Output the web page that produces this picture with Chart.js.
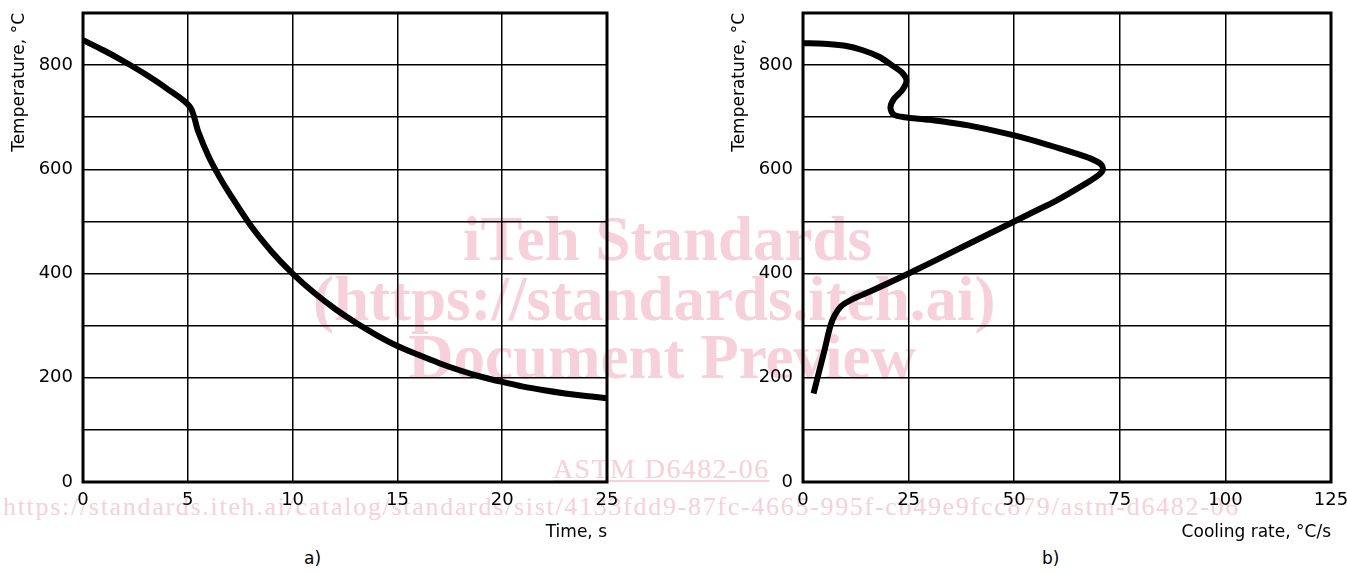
<!DOCTYPE html>
<html>
<head>
<meta charset="utf-8">
<script src="https://cdn.jsdelivr.net/npm/chart.js@4.4.0/dist/chart.umd.min.js"></script>
<style>
    body { margin: 0; background: #fff; width: 1347px; height: 574px; overflow: hidden; position: relative; font-family: "DejaVu Sans", sans-serif; }
    .wm { position: absolute; color: #f6d0da; font-family: "Liberation Serif", serif; white-space: nowrap; line-height: 1; }
    .wm.big { font-weight: bold; font-size: 63px; }
    .box { position: absolute; top: 0; height: 545px; }
    .cap { position: absolute; top: 548px; font-size: 17px; color: #000; }
</style>
</head>
<body>
<div class="wm big" style="left:463px; top:208px;">iTeh Standards</div>
<div class="wm big" style="left:313px; top:268px;">(https://standards.iteh.ai)</div>
<div class="wm big" style="left:408px; top:326px;">Document Preview</div>
<div class="wm" style="left:553px; top:455px; font-size:28px; letter-spacing:1.4px; text-decoration:underline;">ASTM D6482-06</div>
<div class="wm" style="left:3px; top:494px; font-size:26px; letter-spacing:1.7px;">https://standards.iteh.ai/catalog/standards/sist/4133fdd9-87fc-4665-995f-cb49e9fcc879/astm-d6482-06</div>

<div class="box" style="left:0; width:680px;"><canvas id="chartA"></canvas></div>
<div class="box" style="left:720px; width:627px;"><canvas id="chartB"></canvas></div>
<div class="cap" style="left:304px;">a)</div>
<div class="cap" style="left:1042px;">b)</div>

<script>
// a) cooling curve: time vs temperature
const timeS = [0, 1, 2, 3, 4, 5.1, 5.5, 6, 6.5, 7, 8, 9, 10, 11, 12, 13, 14, 15, 16, 17, 18, 19, 20, 21, 22, 23, 24, 25];
const tempA = [848, 828, 806, 782, 755, 720, 672, 624, 586, 553, 492, 442, 400, 364, 333, 306, 282, 261, 244, 228, 214, 202, 192, 183, 176, 170, 165, 161];

// b) cooling rate vs temperature
const coolRate = [0, 5, 10, 14, 18, 21, 23.5, 24.5, 23.5, 21.5, 20.7, 21.5, 24, 30, 40, 50, 58, 64, 68, 70.5, 71, 70, 67, 60, 55, 50, 37.5, 25, 16, 11.5, 9, 7.5, 6.5, 5, 2.5];
const tempB = [842, 841, 837, 829, 816, 800, 785, 770, 752, 735, 718, 705, 700, 695, 683, 665, 647, 632, 621, 610, 600, 589, 573, 540, 520, 500, 450, 400, 366, 350, 337, 320, 300, 250, 170];

const yTicks = [0, 200, 400, 600, 800];

Chart.defaults.color = '#000';
Chart.defaults.font.family = '"DejaVu Sans", sans-serif';

const frame = {
    id: 'frame',
    beforeDatasetsDraw(chart) {
        const { ctx, chartArea: a } = chart;
        ctx.save();
        ctx.lineWidth = 3;
        ctx.strokeStyle = '#000';
        ctx.strokeRect(a.left, a.top, a.right - a.left, a.bottom - a.top);
        ctx.restore();
    }
};

function makeChart(id, xs, ys, xMax, xStep, xTitle, tension, padRight) {
    const ctx = document.getElementById(id).getContext('2d');
    return new Chart(ctx, {
        type: 'scatter',
        data: {
            datasets: [{
                data: xs.map((x, i) => ({ x: x, y: ys[i] })),
                showLine: true,
                borderColor: '#000',
                borderWidth: 6,
                pointRadius: 0,
                tension: tension,
                clip: 5
            }]
        },
        options: {
            responsive: true,
            maintainAspectRatio: false,
            animation: false,
            layout: { padding: { left: 0, top: 13, right: padRight, bottom: 0 } },
            plugins: { legend: { display: false }, tooltip: { enabled: false } },
            scales: {
                x: {
                    type: 'linear',
                    min: 0,
                    max: xMax,
                    afterFit: s => { s.height = 63; s.paddingLeft = 0; s.paddingRight = 0; },
                    grid: { color: '#000', lineWidth: 1.5, drawTicks: false },
                    border: { display: false },
                    ticks: { stepSize: xStep, padding: 8, font: { size: 18 } },
                    title: { display: true, text: xTitle, align: 'end', padding: { top: 0, bottom: 2 }, font: { size: 17 } }
                },
                y: {
                    min: 0,
                    max: 900,
                    afterFit: s => { s.width = 83; s.paddingTop = 0; s.paddingBottom = 0; },
                    grid: { color: '#000', lineWidth: 1.5, drawTicks: false },
                    border: { display: false },
                    ticks: {
                        stepSize: 100,
                        padding: 10,
                        font: { size: 18 },
                        callback: v => yTicks.includes(v) ? v : ''
                    },
                    title: { display: true, text: 'Temperature, °C', align: 'end', padding: { top: 9, bottom: 0 }, font: { size: 17 } }
                }
            }
        },
        plugins: [frame]
    });
}

makeChart('chartA', timeS, tempA, 25, 5, 'Time, s', 0.3, 73);
makeChart('chartB', coolRate, tempB, 125, 25, 'Cooling rate, °C/s', 0.3, 16);
</script>
</body>
</html>
